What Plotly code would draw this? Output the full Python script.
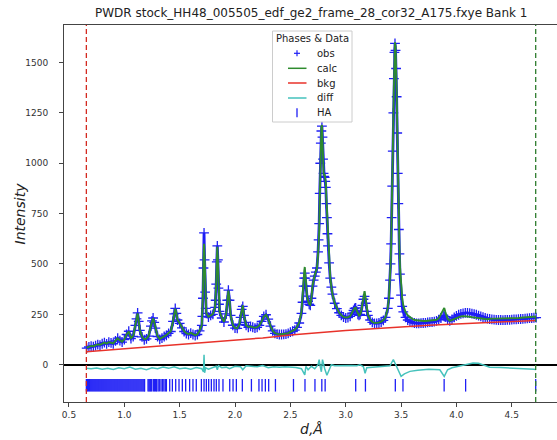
import plotly.graph_objects as go

TITLE = "PWDR stock_HH48_005505_edf_ge2_frame_28_cor32_A175.fxye Bank 1"

# ---------------- data ----------------
D_OBS = [
    0.66, 0.68, 0.70, 0.72, 0.74, 0.76, 0.78, 0.80, 0.82, 0.84,
    0.86, 0.88, 0.90, 0.92, 0.94, 0.96, 0.98, 1.00, 1.02, 1.04,
    1.06, 1.08, 1.10, 1.11, 1.12, 1.13, 1.14, 1.16, 1.18, 1.20,
    1.22, 1.24, 1.25, 1.26, 1.27, 1.28, 1.30, 1.32, 1.34, 1.36,
    1.38, 1.40, 1.42, 1.44, 1.45, 1.46, 1.47, 1.48, 1.50, 1.52,
    1.54, 1.56, 1.58, 1.60, 1.62, 1.64, 1.66, 1.68, 1.70, 1.705,
    1.71, 1.715, 1.72, 1.725, 1.73, 1.735, 1.74, 1.76, 1.78, 1.80,
    1.82, 1.825, 1.83, 1.835, 1.84, 1.845, 1.85, 1.855, 1.86, 1.88,
    1.90, 1.92, 1.93, 1.94, 1.95, 1.96, 1.98, 2.00, 2.02, 2.04,
    2.05, 2.06, 2.07, 2.08, 2.09, 2.10, 2.12, 2.14, 2.16, 2.18,
    2.20, 2.22, 2.24, 2.26, 2.28, 2.30, 2.32, 2.34, 2.36, 2.38,
    2.40, 2.42, 2.44, 2.46, 2.48, 2.50, 2.52, 2.54, 2.56, 2.58,
    2.60, 2.61, 2.62, 2.625, 2.63, 2.635, 2.64, 2.65, 2.66, 2.67,
    2.68, 2.69, 2.70, 2.71, 2.72, 2.73, 2.74, 2.75, 2.755, 2.76,
    2.765, 2.77, 2.775, 2.78, 2.785, 2.79, 2.795, 2.80, 2.805, 2.81,
    2.815, 2.82, 2.825, 2.83, 2.835, 2.84, 2.85, 2.86, 2.87, 2.88,
    2.90, 2.92, 2.94, 2.96, 2.98, 3.00, 3.02, 3.04, 3.06, 3.07,
    3.08, 3.09, 3.10, 3.11, 3.12, 3.13, 3.14, 3.15, 3.16, 3.17,
    3.18, 3.19, 3.20, 3.22, 3.24, 3.26, 3.28, 3.30, 3.32, 3.34,
    3.36, 3.38, 3.39, 3.40, 3.405, 3.41, 3.415, 3.42, 3.425, 3.43,
    3.435, 3.44, 3.445, 3.45, 3.455, 3.46, 3.465, 3.47, 3.475, 3.48,
    3.485, 3.49, 3.50, 3.51, 3.52, 3.54, 3.56, 3.58, 3.60, 3.62,
    3.64, 3.66, 3.68, 3.70, 3.72, 3.74, 3.76, 3.78, 3.80, 3.82,
    3.84, 3.86, 3.88, 3.89, 3.90, 3.92, 3.94, 3.96, 3.98, 4.00,
    4.02, 4.04, 4.06, 4.08, 4.10, 4.12, 4.14, 4.16, 4.18, 4.20,
    4.22, 4.24, 4.26, 4.28, 4.30, 4.32, 4.34, 4.36, 4.38, 4.40,
    4.42, 4.44, 4.46, 4.48, 4.50, 4.52, 4.54, 4.56, 4.58, 4.60,
    4.62, 4.64, 4.66, 4.68, 4.70, 4.72,
]

OBS = [
    82, 88, 92, 90, 95, 100, 97, 104, 110, 103,
    112, 108, 104, 118, 132, 120, 112, 125, 150, 166,
    130, 140, 195, 228, 257, 215, 170, 138, 124, 128,
    142, 192, 218, 232, 210, 182, 140, 126, 132, 140,
    146, 156, 165, 215, 252, 280, 255, 222, 205, 183,
    165, 155, 150, 157, 150, 145, 150, 168, 195, 240,
    330, 480, 654, 520, 360, 280, 255, 236, 245, 250,
    285, 320, 400, 510, 590, 520, 380, 300, 265, 232,
    212, 252, 320, 370, 320, 245, 196, 182, 180, 200,
    235, 275, 290, 245, 210, 195, 186, 190, 186, 182,
    185, 195, 215, 240, 248, 226, 192, 168, 156, 152,
    150, 150, 151, 152, 156, 162, 166, 172, 185, 207,
    255, 310, 390, 430, 455, 430, 390, 340, 315, 300,
    295, 330, 390, 420, 440, 460, 480, 560, 620, 700,
    850, 1000, 1100, 1160, 1184, 1130, 1020, 950, 935, 930,
    910, 880, 800, 730, 650, 590, 505, 430, 385, 350,
    305, 278, 258, 245, 236, 232, 234, 240, 256, 270,
    280, 282, 266, 250, 245, 250, 265, 295, 325, 339,
    305, 265, 245, 222, 210, 205, 205, 207, 212, 220,
    235, 280, 330, 420, 500, 600, 730, 886, 1060, 1250,
    1420, 1550, 1595, 1560, 1470, 1330, 1150, 950, 800, 671,
    550, 450, 345, 290, 262, 235, 222, 215, 210, 207,
    205, 205, 206, 207, 208, 210, 211, 212, 214, 218,
    224, 232, 242, 240, 238, 225, 218, 225, 235, 242,
    248, 252, 255, 257, 257, 256, 254, 251, 248, 244,
    240, 236, 232, 229, 227, 225, 224, 223, 222, 222,
    221, 222, 223, 223, 224, 225, 225, 226, 227, 228,
    229, 230, 231, 232, 233, 234,
]

CALC = [
    84, 89, 93, 92, 96, 101, 99, 105, 110, 105,
    112, 109, 106, 119, 131, 121, 114, 126, 150, 164,
    132, 142, 196, 230, 255, 216, 172, 140, 126, 130,
    144, 193, 220, 231, 212, 183, 142, 128, 133, 141,
    147, 157, 166, 216, 254, 278, 256, 223, 206, 185,
    167, 157, 152, 158, 152, 147, 151, 169, 197, 245,
    350, 515, 600, 540, 370, 285, 257, 238, 246, 251,
    286, 322, 405, 515, 585, 525, 385, 302, 266, 233,
    213, 253, 322, 368, 322, 246, 197, 183, 181, 201,
    237, 280, 295, 247, 211, 196, 187, 190, 187, 183,
    186, 195, 215, 239, 248, 228, 193, 169, 157, 153,
    151, 151, 152, 153, 157, 163, 168, 174, 187, 210,
    262, 325, 420, 465, 485, 450, 395, 342, 318, 301,
    297, 330, 392, 425, 445, 462, 478, 545, 600, 660,
    810, 980, 1110, 1180, 1190, 1090, 1000, 955, 940, 940,
    925, 905, 830, 770, 690, 625, 525, 435, 386, 350,
    306, 279, 259, 246, 237, 234, 235, 241, 257, 271,
    281, 283, 267, 250, 244, 249, 266, 300, 340, 365,
    330, 275, 248, 224, 212, 207, 207, 209, 214, 222,
    237, 282, 332, 420, 495, 590, 710, 860, 1030, 1210,
    1380, 1540, 1600, 1580, 1500, 1360, 1190, 990, 840, 700,
    590, 490, 390, 330, 295, 262, 245, 235, 228, 222,
    220, 218, 217, 217, 217, 218, 218, 219, 220, 223,
    230, 248, 272, 282, 262, 228, 218, 222, 228, 234,
    238, 240, 241, 241, 240, 238, 236, 234, 232, 230,
    229, 228, 227, 226, 229, 229, 229, 229, 229, 229,
    229, 229, 230, 230, 231, 231, 232, 232, 233, 234,
    234, 235, 236, 237, 238, 239,
]

D_BKG = [0.657, 0.8, 1.0, 1.25, 1.5, 1.75, 2.0, 2.25, 2.5, 2.75,
         3.0, 3.25, 3.5, 3.75, 4.0, 4.25, 4.5, 4.716]
BKG = [65, 71, 79, 89, 99, 110, 121, 133, 148, 160,
       170, 179, 188, 196, 202, 208, 214, 220]

D_DIFF = [
    0.657, 0.70, 0.75, 0.80, 0.85, 0.90, 0.95, 1.00, 1.05, 1.10,
    1.15, 1.20, 1.25, 1.30, 1.35, 1.40, 1.45, 1.50, 1.55, 1.60,
    1.65, 1.70, 1.715, 1.72, 1.725, 1.735, 1.76, 1.80, 1.83, 1.84,
    1.85, 1.88, 1.92, 1.95, 2.00, 2.05, 2.07, 2.10, 2.15, 2.20,
    2.25, 2.30, 2.35, 2.40, 2.45, 2.50, 2.55, 2.60, 2.62, 2.63,
    2.64, 2.66, 2.69, 2.72, 2.75, 2.76, 2.77, 2.78, 2.79, 2.80,
    2.81, 2.83, 2.85, 2.87, 2.90, 2.95, 3.00, 3.05, 3.10, 3.13,
    3.16, 3.175, 3.19, 3.25, 3.30, 3.35, 3.40, 3.43, 3.455, 3.48,
    3.50, 3.53, 3.58, 3.65, 3.75, 3.85, 3.89, 3.92, 3.96, 4.00,
    4.05, 4.10, 4.15, 4.20, 4.25, 4.30, 4.40, 4.50, 4.60, 4.70,
    4.716,
]
DIFF = [
    -18, -20, -16, -22, -17, -24, -15, -20, -12, -22,
    -18, -25, -15, -20, -12, -18, -10, -20, -16, -22,
    -14, -20, -35, 50, -40, -15, -22, -12, -8, -25,
    -5, -15, -12, -20, -8, -10, -25, -5, -6, -10,
    -4, -15, -10, -12, -10, -12, -14, -20, -40, -50,
    -8, -25, -8, -20, 0, 25, -10, -35, 25, 0,
    -20, -52, -30, 0, -5, -4, -6, -4, -5, 0,
    -10, -42, -15, -12, -10, -8, -5, 26, -2, -30,
    -58, -45, -33, -27, -22, -25, -58, -25, -15, -10,
    -3, 5, 9, 7, -2, -12, -14, -16, -18, -22,
    -25,
]

HA_TICKS = [
    0.657, 0.666, 0.675, 0.684, 0.692, 0.701, 0.710, 0.719, 0.728, 0.737,
    0.746, 0.755, 0.764, 0.773, 0.782, 0.791, 0.800, 0.809, 0.818, 0.827,
    0.836, 0.845, 0.854, 0.863, 0.872, 0.881, 0.890, 0.899, 0.908, 0.917,
    0.926, 0.935, 0.944, 0.953, 0.962, 0.971, 0.980, 0.989, 0.998, 1.007,
    1.016, 1.025, 1.034, 1.043, 1.052, 1.061, 1.070, 1.079, 1.088, 1.097,
    1.106, 1.115, 1.124, 1.133, 1.142, 1.151, 1.160, 1.169, 1.178, 1.183,
    1.214, 1.222, 1.230, 1.238, 1.247, 1.262, 1.272, 1.283, 1.291, 1.305,
    1.316, 1.331, 1.344, 1.357, 1.370, 1.380,
    1.410, 1.434, 1.464, 1.494, 1.524, 1.554, 1.590, 1.620, 1.650,
    1.696, 1.720, 1.741, 1.762, 1.786, 1.810, 1.831, 1.855, 1.891,
    1.952, 1.982, 2.012, 2.066, 2.148, 2.216, 2.244, 2.274, 2.304, 2.365,
    2.528, 2.632, 2.722, 2.784, 2.814, 3.090, 3.178, 3.448, 3.517,
    3.889, 4.083, 4.716,
]
TICK_LEVEL = -102
LIMITS = [0.657, 4.716]

X_TICKS = [0.5, 1.0, 1.5, 2.0, 2.5, 3.0, 3.5, 4.0, 4.5]
Y_TICKS = [0, 250, 500, 750, 1000, 1250, 1500]

LEGEND_TITLE = "Phases & Data"
LEGEND_LABELS = ["obs", "calc", "bkg", "diff", "HA"]

# ---------------- styles ----------------
BLUE = "#1e1ef5"
GREEN = "#2e8b2e"
RED = "#e8322a"
CYAN = "#45c2bc"
SPINE = "#444444"
FONT = "DejaVu Sans"

W, H = 557, 440
ML, MR, MT, MB = 64, 0, 25, 38
PW, PH = W - ML - MR, H - MT - MB


def px(xp):
    return (xp - ML) / PW


def py(yp):
    return (H - MB - yp) / PH


fig = go.Figure()
fig.add_trace(go.Scatter(
    x=D_OBS, y=OBS, mode="lines+markers", name="obs",
    line=dict(color=BLUE, width=2.8),
    marker=dict(symbol="cross-thin", size=7, color=BLUE,
                line=dict(width=1.3, color=BLUE))))
fig.add_trace(go.Scatter(x=D_OBS, y=CALC, mode="lines", name="calc",
                         line=dict(color=GREEN, width=1.9)))
fig.add_trace(go.Scatter(x=D_BKG, y=BKG, mode="lines", name="bkg",
                         line=dict(color=RED, width=1.5)))
fig.add_trace(go.Scatter(x=D_DIFF, y=DIFF, mode="lines", name="diff",
                         line=dict(color=CYAN, width=1.5)))
fig.add_trace(go.Scatter(
    x=HA_TICKS, y=[TICK_LEVEL] * len(HA_TICKS), mode="markers", name="HA",
    marker=dict(symbol="line-ns", size=9, color=BLUE,
                line=dict(width=1.3, color=BLUE))))

shapes = [
    dict(type="line", xref="x", yref="paper", x0=LIMITS[0], x1=LIMITS[0],
         y0=0, y1=1, line=dict(color="#d42a20", width=1.3, dash="5px,3px")),
    dict(type="line", xref="x", yref="paper", x0=LIMITS[1], x1=LIMITS[1],
         y0=0, y1=1, line=dict(color="#2e7d2e", width=1.3, dash="5px,3px")),
]

# ---- manual legend (matplotlib style) ----
shapes.append(dict(type="rect", xref="paper", yref="paper",
                   x0=px(272.5), x1=px(352), y0=py(122), y1=py(31),
                   line=dict(color="#cccccc", width=1),
                   fillcolor="rgba(255,255,255,0.85)", layer="above"))
annotations = [dict(text=LEGEND_TITLE, xref="paper", yref="paper",
                    x=px(312), y=py(38.5), showarrow=False,
                    xanchor="center", yanchor="middle",
                    font=dict(family=FONT, size=10, color="#222222"))]
item_y = [53.3, 68.3, 83, 98, 112.7]
hx = 297
for lab, yy in zip(LEGEND_LABELS, item_y):
    annotations.append(dict(text=lab, xref="paper", yref="paper",
                            x=px(315), y=py(yy), showarrow=False,
                            xanchor="left", yanchor="middle",
                            font=dict(family=FONT, size=10, color="#222222")))
# obs handle '+'
shapes.append(dict(type="line", xref="paper", yref="paper", layer="above",
                   x0=px(hx - 3), x1=px(hx + 3), y0=py(item_y[0]), y1=py(item_y[0]),
                   line=dict(color=BLUE, width=1.2)))
shapes.append(dict(type="line", xref="paper", yref="paper", layer="above",
                   x0=px(hx), x1=px(hx), y0=py(item_y[0] - 3), y1=py(item_y[0] + 3),
                   line=dict(color=BLUE, width=1.2)))
for col, yy in zip([GREEN, RED, CYAN], item_y[1:4]):
    shapes.append(dict(type="line", xref="paper", yref="paper", layer="above",
                       x0=px(288), x1=px(306.5), y0=py(yy), y1=py(yy),
                       line=dict(color=col, width=1.5)))
shapes.append(dict(type="line", xref="paper", yref="paper", layer="above",
                   x0=px(hx), x1=px(hx), y0=py(item_y[4] - 4.5), y1=py(item_y[4] + 4.5),
                   line=dict(color=BLUE, width=1.3)))

# title and axis labels
annotations.append(dict(text=TITLE, xref="paper", yref="paper", x=0.5, y=py(13),
                        showarrow=False, xanchor="center", yanchor="middle",
                        font=dict(family=FONT, size=12, color="#222222")))
annotations.append(dict(text="<i>Intensity</i>", xref="paper", yref="paper",
                        x=px(19), y=0.5, showarrow=False, textangle=-90,
                        xanchor="center", yanchor="middle",
                        font=dict(family=FONT, size=14, color="#222222")))
annotations.append(dict(text="<i>d,Å</i>", xref="paper", yref="paper",
                        x=px(311), y=py(429), showarrow=False,
                        xanchor="center", yanchor="middle",
                        font=dict(family=FONT, size=14, color="#222222")))

fig.update_layout(
    width=W, height=H, margin=dict(l=ML, r=MR, t=MT, b=MB, pad=0),
    paper_bgcolor="white", plot_bgcolor="white", showlegend=False,
    font=dict(family=FONT, size=9, color="#333333"),
    shapes=shapes, annotations=annotations,
    xaxis=dict(range=[0.455, 0.455 + PW / 110.7], tickvals=X_TICKS,
               tickformat=".1f", ticks="outside", ticklen=4, tickcolor=SPINE,
               showline=True, linecolor=SPINE, linewidth=1, mirror=True,
               showgrid=False, zeroline=False,
               tickfont=dict(family=FONT, size=9, color="#333333")),
    yaxis=dict(range=[-185, 1686], tickvals=Y_TICKS, ticks="outside",
               ticklen=4, tickcolor=SPINE, showline=True, linecolor=SPINE,
               linewidth=1, mirror=False, showgrid=False,
               zeroline=True, zerolinecolor="black", zerolinewidth=1.5,
               ticklabelstandoff=9,
               tickfont=dict(family=FONT, size=9, color="#333333")),
)

fig.write_html("out.html",
               config={"displayModeBar": False},
               post_script="document.body.style.margin='0px';"
                           "document.body.style.overflow='hidden';")
